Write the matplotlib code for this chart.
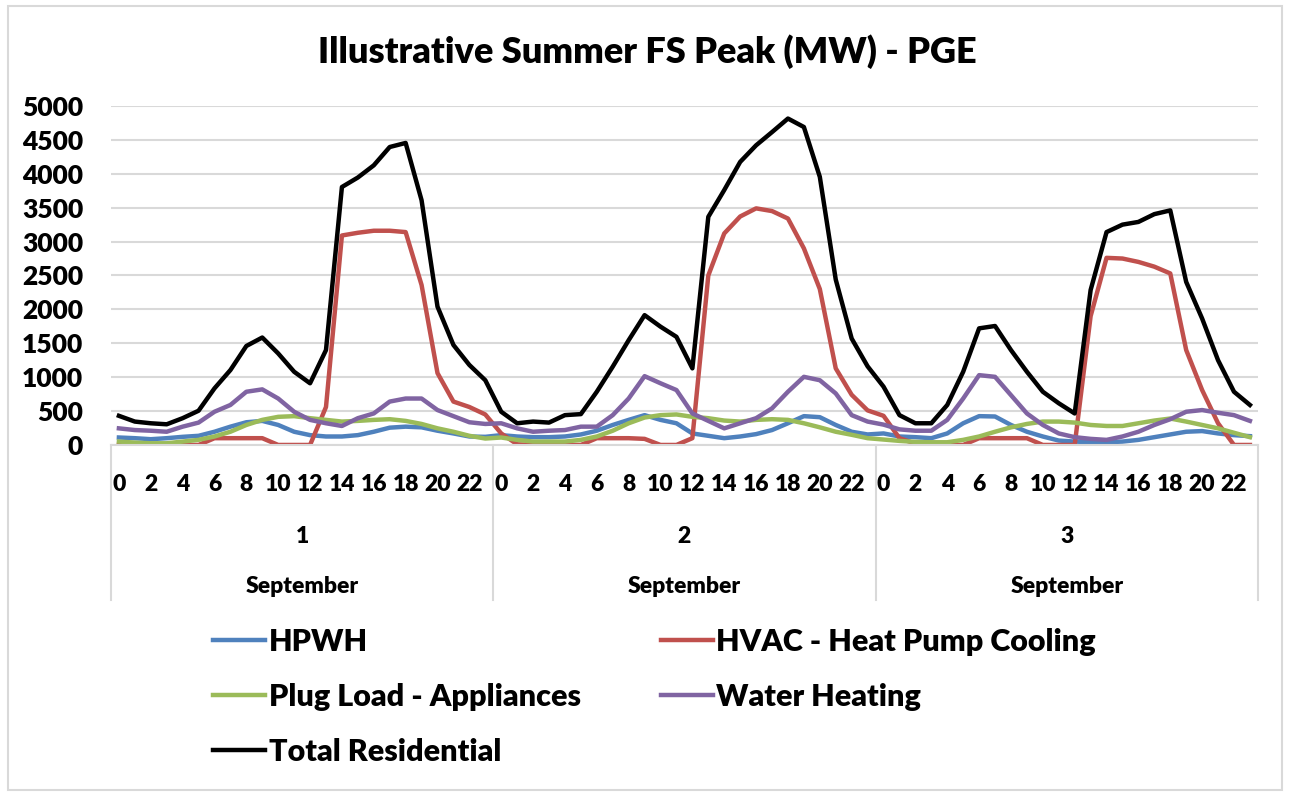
import numpy as np
import matplotlib.pyplot as plt
from matplotlib.patches import Rectangle

plt.rcParams['font.family'] = ['Lato', 'DejaVu Sans']
plt.rcParams['font.weight'] = 'heavy'

# Hourly peak load (MW), three days in September
hours = list(range(24)) * 3
days = ['1', '2', '3']
month = 'September'

hpwh = [110, 100, 85, 100, 120, 135, 195, 270, 335, 355, 295, 195, 145, 125, 125, 145, 195, 255, 270, 260, 210, 170, 125, 120,
        145, 125, 115, 115, 125, 155, 210, 295, 370, 440, 370, 320, 170, 135, 100, 125, 160, 220, 320, 425, 410, 295, 195, 155,
        170, 125, 115, 100, 170, 320, 425, 420, 295, 195, 125, 65, 50, 40, 40, 50, 75, 115, 155, 195, 205, 170, 145, 130]
hvac = [0, 0, 0, 0, 0, 0, 100, 100, 100, 100, 0, 0, 0, 560, 3090, 3130, 3160, 3160, 3140, 2360, 1060, 640, 560, 450,
        170, 10, 0, 0, 0, 0, 100, 100, 100, 90, 0, 0, 100, 2500, 3120, 3370, 3490, 3450, 3340, 2900, 2300, 1130, 740, 510,
        430, 100, 20, 0, 0, 0, 100, 100, 100, 100, 0, 0, 0, 1900, 2760, 2750, 2700, 2630, 2530, 1400, 810, 320, 0, 0]
plug_load = [50, 35, 25, 25, 50, 75, 125, 195, 295, 370, 415, 425, 395, 370, 345, 355, 370, 380, 355, 310, 245, 195, 135, 95,
             110, 75, 50, 50, 50, 75, 125, 210, 320, 405, 440, 450, 415, 395, 360, 345, 370, 380, 370, 320, 260, 195, 150, 100,
             80, 60, 45, 40, 40, 75, 125, 195, 260, 310, 345, 345, 330, 295, 280, 280, 320, 360, 390, 345, 295, 245, 180, 115]
water_heating = [245, 220, 210, 195, 270, 330, 490, 590, 785, 820, 685, 490, 370, 320, 280, 395, 465, 640, 685, 685, 515, 425, 335, 310,
                 320, 245, 195, 210, 220, 270, 270, 440, 685, 1015, 910, 810, 465, 355, 245, 320, 395, 540, 785, 1005, 955, 760, 440, 345,
                 300, 230, 210, 210, 370, 685, 1030, 1005, 735, 465, 295, 170, 115, 90, 75, 125, 195, 295, 380, 490, 515, 475, 440, 355]
total_residential = [430, 345, 320, 305, 395, 505, 835, 1105, 1460, 1585, 1350, 1080, 910, 1400, 3805, 3945, 4125, 4395, 4455, 3610, 2040, 1475, 1180, 955,
                     490, 320, 345, 330, 440, 455, 785, 1155, 1545, 1915, 1745, 1595, 1130, 3365, 3760, 4175, 4420, 4615, 4815, 4690, 3955, 2440, 1570, 1160,
                     860, 440, 320, 320, 590, 1080, 1720, 1755, 1400, 1080, 785, 615, 465, 2285, 3140, 3250, 3290, 3405, 3460, 2405, 1865, 1250, 785, 590]

series = [
    ('HPWH', hpwh, '#4F81BD'),
    ('HVAC - Heat Pump Cooling', hvac, '#C0504D'),
    ('Plug Load - Appliances', plug_load, '#9BBB59'),
    ('Water Heating', water_heating, '#8064A2'),
    ('Total Residential', total_residential, '#000000'),
]

grid_color = '#d9d9d9'

fig = plt.figure(figsize=(12.9, 7.97), dpi=100)
ax = fig.add_axes([0.086, 0.4417, 0.8891, 0.4253])

x = np.arange(len(hours))
lines = {}
for label, values, color in series:
    lines[label], = ax.plot(x, values, color=color, lw=3.2, label=label)

ax.set_xlim(-0.5, len(hours) - 0.5)
ax.set_ylim(0, 5000)
ax.set_yticks(np.arange(0, 5001, 500))
ax.grid(axis='y', color=grid_color, lw=1.5)
ax.set_axisbelow(True)
for side in ['top', 'left', 'right']:
    ax.spines[side].set_visible(False)
ax.spines['bottom'].set_color(grid_color)
ax.spines['bottom'].set_linewidth(1.5)

ax.set_xticks(x[::2])
ax.set_xticklabels([str(h) for h in hours[::2]])
ax.tick_params(axis='y', length=0, pad=20, labelsize=19)
ax.tick_params(axis='x', length=0, pad=21, labelsize=16.5)

# Day / month category rows below the hour labels
xt = ax.get_xaxis_transform()
for i, day in enumerate(days):
    center = i * 24 + 11.5
    ax.text(center, -0.271, day, transform=xt, ha='center', va='center', fontsize=16.5)
    ax.text(center, -0.418, month, transform=xt, ha='center', va='center', fontsize=16.5)
for b in np.arange(0, len(hours) + 1, 24) - 0.5:
    ax.plot([b, b], [0, -0.457], transform=xt, clip_on=False, color=grid_color, lw=1.5)

fig.text(0.502, 0.9348, 'Illustrative Summer FS Peak (MW) - PGE', ha='center', va='center',
         fontsize=26)

order = ['HPWH', 'Plug Load - Appliances', 'Total Residential', 'HVAC - Heat Pump Cooling', 'Water Heating']
fig.legend(handles=[lines[k] for k in order], ncol=2, loc='upper left',
           bbox_to_anchor=(213 / 1290, 1 - 628 / 797), frameon=False, fontsize=22,
           handlelength=1.7, handletextpad=0.12, columnspacing=2.62, labelspacing=0.88,
           borderaxespad=0, borderpad=0)

fig.add_artist(Rectangle((8 / 1290, 7 / 797), 1274 / 1290, 784 / 797, transform=fig.transFigure,
                         fill=False, edgecolor=grid_color, lw=1.5))

fig.savefig('out.png', dpi=100)
